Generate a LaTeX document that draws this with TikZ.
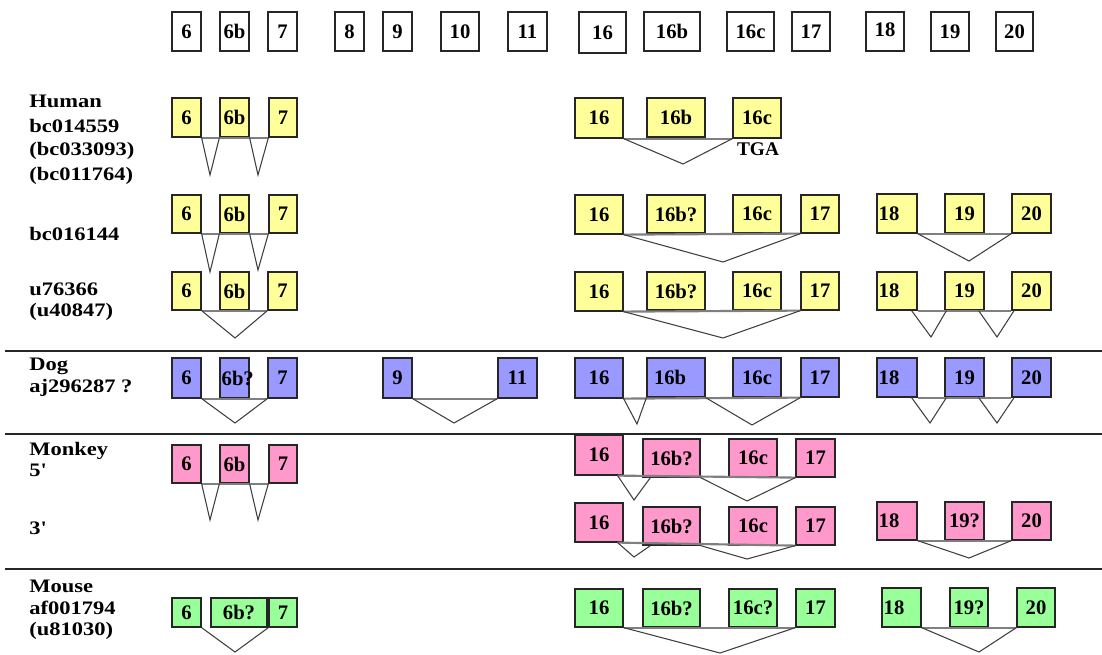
\documentclass[tikz,border=0pt]{standalone}
\usepackage{fontspec}
\setmainfont{Liberation Serif}
\newfontfamily\lblfont[FakeStretch=1.18]{Liberation Serif}

\definecolor{hum}{HTML}{FFFF99}
\definecolor{dogc}{HTML}{9999FF}
\definecolor{monc}{HTML}{FF99CC}
\definecolor{mouc}{HTML}{99FF99}
\definecolor{bbgrey}{HTML}{7F7F7F}

\tikzset{
  exon/.style={draw=black!85, line width=0.9pt, inner sep=0pt,
    font=\fontsize{15.5}{18}\selectfont\bfseries},
  hdr/.style={exon, fill=white},
  lefttext/.style={text width=\extw pt, align=left},
  backbone/.style={draw=bbgrey, line width=1.6pt},
  junction/.style={draw=black!75, line width=0.8pt},
  divider/.style={draw=black!85, line width=1.4pt},
  species/.style={anchor=west, inner sep=0pt,
    font=\lblfont\bfseries\fontsize{14.3}{16}\selectfont},
}

% \exonbox[options]{name}{x1}{y1}{x2}{y2}{text}, corners given in pixel units
\newcommand\exonbox[7][]{%
  \pgfmathsetmacro\exw{(#5-#3)*0.75}%
  \pgfmathsetmacro\exh{(#6-#4)*0.75}%
  \pgfmathsetmacro\extw{(#5-#3)*0.75-2.5}%
  \node[exon,minimum width=\exw pt,minimum height=\exh pt,#1] (#2)
    at ({(#3+#5)/2},{(#4+#6)/2}) {#7};}

\begin{document}
\begin{tikzpicture}[x=0.75pt,y=-0.75pt]
\fill[white] (0,0) rectangle (1102,654);
\useasboundingbox (0,0) rectangle (1102,654);

% ---- exon numbering header ----
\exonbox[hdr]{h6}{172}{12}{201}{51}{6}
\exonbox[hdr]{h6b}{220}{12}{249}{51}{6b}
\exonbox[hdr]{h7}{268}{12}{297}{51}{7}
\exonbox[hdr]{h8}{335}{12}{364}{51}{8}
\exonbox[hdr]{h9}{383}{12}{412}{51}{9}
\exonbox[hdr]{h10}{441}{12}{479}{51}{10}
\exonbox[hdr]{h11}{508}{12}{547}{51}{11}
\exonbox[hdr]{h16}{579}{12}{626}{53}{\raisebox{-4pt}{16}}
\exonbox[hdr]{h16b}{644}{12}{700}{51}{16b}
\exonbox[hdr]{h16c}{727}{12}{774}{51}{16c}
\exonbox[hdr]{h17}{792}{12}{830}{51}{17}
\exonbox[hdr]{h18}{866}{12}{904}{51}{\raisebox{3pt}{18}}
\exonbox[hdr]{h19}{931}{12}{969}{51}{19}
\exonbox[hdr]{h20}{996}{12}{1033}{51}{20}

% ---- species labels ----
\node[species] (lhum) at (29,101) {Human};
\node[species] (lbc1) at (29,126) {bc014559};
\node[species] (lbc2) at (29,151) {(bc033093)};
\node[species] (lbc3) at (29,176) {(bc011764)};
\node[species] (lbc4) at (29,234) {bc016144};
\node[species] (lu1) at (29,289) {u76366};
\node[species] (lu2) at (29,312) {(u40847)};
\node[species] (ldog) at (29,366) {Dog};
\node[species] (laj) at (29,388) {aj296287 ?};
\node[species] (lmon) at (29,451) {Monkey};
\node[species] (l5) at (29,470) {5'};
\node[species] (l3) at (29,528) {3'};
\node[species] (lmou) at (29,586) {Mouse};
\node[species] (laf) at (29,608) {af001794};
\node[species] (lu3) at (29,631) {(u81030)};

% ---- dividers between species ----
\draw[divider] (5,351) -- (1102,351);
\draw[divider] (5,434) -- (1102,434);
\draw[divider] (5,569) -- (1102,569);

% ---- Human bc014559 ----
\exonbox[fill=hum]{a6}{172}{98}{201}{137}{6}
\exonbox[fill=hum]{a6b}{220}{98}{249}{137}{6b}
\exonbox[fill=hum]{a7}{269}{98}{297}{137}{7}
\exonbox[fill=hum]{a16}{575}{98}{623}{138}{16}
\exonbox[fill=hum]{a16b}{647}{98}{705}{137}{16b}
\exonbox[fill=hum]{a16c}{733}{98}{781}{138}{16c}
\node[font=\fontsize{14.5}{16}\selectfont\bfseries, inner sep=0pt] (tga) at (758,149) {TGA};
\coordinate (av1) at (210,175);
\coordinate (av2) at (258,175);
\coordinate (av3) at (683,164);
\draw[backbone] (a6.south east) -- (a7.south west);
\draw[backbone] (a16.south east) -- (a16c.south west);
\draw[junction] (a6.south east) -- (av1) -- (a6b.south west);
\draw[junction] (a6b.south east) -- (av2) -- (a7.south west);
\draw[junction] (a16.south east) -- (av3) -- (a16c.south west);

% ---- Human bc016144 ----
\exonbox[fill=hum]{b6}{172}{195}{201}{233}{6}
\exonbox[fill=hum]{b6b}{220}{195}{249}{233}{6b}
\exonbox[fill=hum]{b7}{269}{195}{297}{233}{7}
\exonbox[fill=hum]{b16}{575}{195}{623}{234}{16}
\exonbox[fill=hum]{b16b}{647}{195}{705}{233}{16b?}
\exonbox[fill=hum]{b16c}{733}{195}{781}{233}{16c}
\exonbox[fill=hum]{b17}{801}{195}{839}{233}{17}
\exonbox[fill=hum,lefttext]{b18}{877}{194}{917}{233}{18}
\exonbox[fill=hum]{b19}{945}{194}{984}{233}{19}
\exonbox[fill=hum]{b20}{1012}{194}{1051}{233}{20}
\coordinate (bv1) at (210,272);
\coordinate (bv2) at (258,270);
\coordinate (bv3) at (723,262);
\coordinate (bv4) at (969,261);
\draw[backbone] (b6.south east) -- (b7.south west);
\draw[backbone] (b16.south east) -- (b17.south west);
\draw[backbone] (b18.south east) -- (b20.south west);
\draw[junction] (b6.south east) -- (bv1) -- (b6b.south west);
\draw[junction] (b6b.south east) -- (bv2) -- (b7.south west);
\draw[junction] (b16.south east) -- (bv3) -- (b17.south west);
\draw[junction] (b18.south east) -- (bv4) -- (b20.south west);

% ---- Human u76366 ----
\exonbox[fill=hum]{c6}{172}{272}{201}{310}{6}
\exonbox[fill=hum]{c6b}{220}{272}{249}{310}{6b}
\exonbox[fill=hum]{c7}{268}{272}{297}{310}{7}
\exonbox[fill=hum]{c16}{575}{272}{623}{311}{16}
\exonbox[fill=hum]{c16b}{647}{272}{705}{310}{16b?}
\exonbox[fill=hum]{c16c}{733}{272}{781}{310}{16c}
\exonbox[fill=hum]{c17}{801}{272}{839}{310}{17}
\exonbox[fill=hum,lefttext]{c18}{877}{272}{917}{310}{18}
\exonbox[fill=hum]{c19}{945}{272}{984}{310}{19}
\exonbox[fill=hum]{c20}{1012}{272}{1051}{310}{20}
\coordinate (cv1) at (235,338);
\coordinate (cv2) at (723,338);
\coordinate (cv3) at (931,337);
\coordinate (cv4) at (997,337);
\draw[backbone] (c6.south east) -- (c7.south west);
\draw[backbone] (c16.south east) -- (c17.south west);
\draw[backbone] (c18.south east) -- (c20.south west);
\draw[junction] (c6.south east) -- (cv1) -- (c7.south west);
\draw[junction] (c16.south east) -- (cv2) -- (c17.south west);
\draw[junction] ([xshift=-4.5pt]c18.south east) -- (cv3) -- ([xshift=1.5pt]c19.south west);
\draw[junction] ([xshift=-4.5pt]c19.south east) -- (cv4) -- ([xshift=2pt]c20.south west);

% ---- Dog aj296287 ----
\exonbox[fill=dogc]{d6}{172}{358}{201}{398}{6}
\exonbox[fill=dogc,lefttext]{d6b}{220}{358}{249}{398}{6b?}
\exonbox[fill=dogc]{d7}{268}{358}{297}{398}{7}
\exonbox[fill=dogc]{d9}{383}{358}{412}{398}{9}
\exonbox[fill=dogc]{d11}{498}{358}{537}{398}{11}
\exonbox[fill=dogc]{d16}{575}{358}{623}{398}{16}
\exonbox[fill=dogc,lefttext]{d16b}{647}{358}{705}{397}{\hspace*{4pt}16b}
\exonbox[fill=dogc]{d16c}{733}{358}{781}{397}{16c}
\exonbox[fill=dogc]{d17}{801}{358}{839}{397}{17}
\exonbox[fill=dogc,lefttext]{d18}{877}{358}{917}{397}{18}
\exonbox[fill=dogc]{d19}{945}{358}{984}{397}{19}
\exonbox[fill=dogc]{d20}{1012}{358}{1051}{397}{20}
\coordinate (dv1) at (235,423);
\coordinate (dv2) at (454,423);
\coordinate (dv3) at (637,424);
\coordinate (dv4) at (752,425);
\coordinate (dv5) at (930,423);
\coordinate (dv6) at (997,423);
\draw[backbone] (d6.south east) -- (d7.south west);
\draw[backbone] (d9.south east) -- (d11.south west);
\draw[backbone] (d16.south east) -- (d17.south west);
\draw[backbone] (d18.south east) -- (d20.south west);
\draw[junction] (d6.south east) -- (dv1) -- (d7.south west);
\draw[junction] (d9.south east) -- (dv2) -- (d11.south west);
\draw[junction] (d16.south east) -- (dv3) -- (d16b.south west);
\draw[junction] (d16b.south east) -- (dv4) -- (d17.south west);
\draw[junction] ([xshift=-4.5pt]d18.south east) -- (dv5) -- ([xshift=1.5pt]d19.south west);
\draw[junction] ([xshift=-4.5pt]d19.south east) -- (dv6) -- ([xshift=2pt]d20.south west);

% ---- Monkey 5' ----
\exonbox[fill=monc]{m6}{172}{445}{201}{483}{6}
\exonbox[fill=monc]{m6b}{220}{445}{249}{483}{6b}
\exonbox[fill=monc]{m7}{269}{445}{297}{483}{7}
\exonbox[fill=monc]{m16}{575}{435}{623}{475}{16}
\exonbox[fill=monc]{m16b}{643}{439}{700}{477}{16b?}
\exonbox[fill=monc]{m16c}{729}{439}{777}{477}{16c}
\exonbox[fill=monc]{m17}{796}{439}{835}{477}{17}
\coordinate (mv1) at (210,520);
\coordinate (mv2) at (258,520);
\coordinate (mv3) at (634,500);
\coordinate (mv4) at (747,501);
\draw[backbone] (m6.south east) -- (m7.south west);
\draw[backbone] ([xshift=-4.5pt]m16.south east) -- (m17.south west);
\draw[junction] (m6.south east) -- (mv1) -- (m6b.south west);
\draw[junction] (m6b.south east) -- (mv2) -- (m7.south west);
\draw[junction] ([xshift=-4.5pt]m16.south east) -- (mv3) -- ([xshift=6pt]m16b.south west);
\draw[junction] (m16b.south east) -- (mv4) -- (m17.south west);

% ---- Monkey 3' ----
\exonbox[fill=monc]{n16}{575}{503}{623}{542}{16}
\exonbox[fill=monc]{n16b}{643}{507}{700}{545}{16b?}
\exonbox[fill=monc]{n16c}{729}{507}{777}{545}{16c}
\exonbox[fill=monc]{n17}{796}{507}{835}{545}{17}
\exonbox[fill=monc,lefttext]{n18}{877}{502}{917}{540}{18}
\exonbox[fill=monc]{n19}{945}{502}{984}{540}{19?}
\exonbox[fill=monc]{n20}{1012}{502}{1051}{540}{20}
\coordinate (nv1) at (634,557);
\coordinate (nv2) at (747,559);
\coordinate (nv3) at (969,558);
\draw[backbone] ([xshift=-4.5pt]n16.south east) -- (n17.south west);
\draw[backbone] (n18.south east) -- (n20.south west);
\draw[junction] ([xshift=-4.5pt]n16.south east) -- (nv1) -- ([xshift=6pt]n16b.south west);
\draw[junction] (n16b.south east) -- (nv2) -- (n17.south west);
\draw[junction] (n18.south east) -- (nv3) -- (n20.south west);

% ---- Mouse af001794 ----
\exonbox[fill=mouc]{o6}{172}{598}{201}{627}{6}
\exonbox[fill=mouc]{o6b}{211}{598}{267}{627}{6b?}
\exonbox[fill=mouc]{o7}{269}{598}{297}{627}{7}
\exonbox[fill=mouc]{o16}{575}{589}{623}{627}{16}
\exonbox[fill=mouc]{o16b}{643}{589}{700}{627}{16b?}
\exonbox[fill=mouc]{o16c}{729}{589}{777}{627}{16c?}
\exonbox[fill=mouc]{o17}{796}{589}{835}{627}{17}
\exonbox[fill=mouc,lefttext]{o18}{882}{588}{921}{627}{18}
\exonbox[fill=mouc]{o19}{950}{588}{988}{627}{19?}
\exonbox[fill=mouc]{o20}{1017}{588}{1055}{627}{20}
\coordinate (ov1) at (235,652);
\coordinate (ov2) at (720,653);
\coordinate (ov3) at (979,652);
\draw[backbone] (o16.south east) -- (o17.south west);
\draw[backbone] (o18.south east) -- (o20.south west);
\draw[junction] (o6.south east) -- (ov1) -- (o7.south west);
\draw[junction] (o16.south east) -- (ov2) -- (o17.south west);
\draw[junction] (o18.south east) -- (ov3) -- (o20.south west);
\end{tikzpicture}
\end{document}
